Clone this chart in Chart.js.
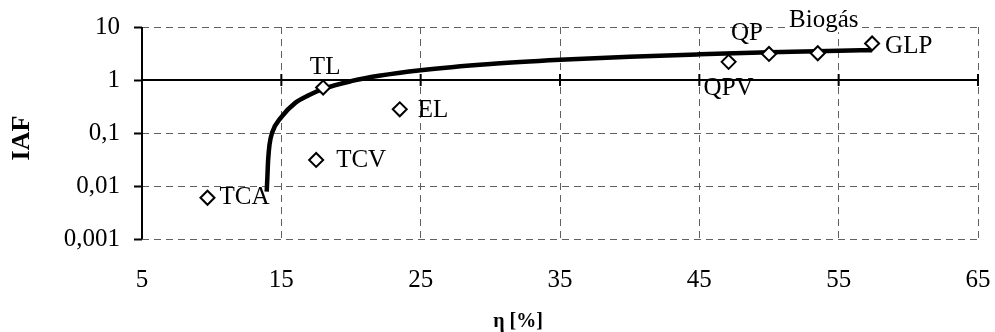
<!DOCTYPE html>
<html>
<head>
<meta charset="utf-8">
<script src="https://cdn.jsdelivr.net/npm/chart.js@4.4.0/dist/chart.umd.min.js"></script>
<style>
  html, body { margin: 0; padding: 0; background: #fff; }
  #wrap { width: 995px; height: 332px; }
</style>
</head>
<body>
<div id="wrap"><canvas id="iaf" width="995" height="332"></canvas></div>
<script>
// technologies, efficiency (%) and IAF
var names = ['TCA', 'TL', 'TCV', 'EL', 'QPV', 'QP', 'Biogás', 'GLP'];
var eta = [9.7, 18.0, 17.5, 23.5, 47.1, 50.0, 53.5, 57.4];
var iaf = [0.006, 0.72, 0.031, 0.28, 2.2, 3.1, 3.2, 4.9];

// trend curve
var curveEta = [13.95, 14.0, 14.05, 14.15, 14.33, 15, 16, 17, 18, 20, 22, 25, 30, 35, 40, 45, 50, 55, 57.4];
var curveIaf = [0.0078, 0.015, 0.03, 0.06, 0.1, 0.2, 0.37, 0.52, 0.68, 0.95, 1.2, 1.53, 2.0, 2.4, 2.75, 3.05, 3.33, 3.57, 3.65];

var xTicks = [5, 15, 25, 35, 45, 55, 65];
var yTicks = [0.001, 0.01, 0.1, 1, 10];
var yTickLabels = ['0,001', '0,01', '0,1', '1', '10'];

// where each point label sits relative to its marker
var labelPos = {
  'TCA':    { dx: 12, dy: 0, align: 'left' },
  'TL':     { dx: 2, dy: -20, align: 'center' },
  'TCV':    { dx: 20, dy: 0, align: 'left' },
  'EL':     { dx: 18, dy: 1, align: 'left' },
  'QPV':    { dx: 0, dy: 27, align: 'center' },
  'QP':     { dx: -22, dy: -21, align: 'center' },
  'Biogás': { dx: 6, dy: -33, align: 'center', bg: true },
  'GLP':    { dx: 13, dy: 3, align: 'left' }
};

Chart.defaults.font.family = 'Liberation Serif';
Chart.defaults.color = '#000';

var points = names.map(function(n, i) { return { x: eta[i], y: iaf[i] }; });
var curve = curveEta.map(function(x, i) { return { x: x, y: curveIaf[i] }; });

var axesPlugin = {
  id: 'axes',
  beforeDatasetsDraw: function(chart) {
    var ctx = chart.ctx, a = chart.chartArea;
    var xs = chart.scales.x, ys = chart.scales.y;
    var y1 = ys.getPixelForValue(1);
    ctx.save();
    ctx.strokeStyle = '#000';
    ctx.lineWidth = 2;
    ctx.beginPath();
    ctx.moveTo(a.left, a.top);
    ctx.lineTo(a.left, a.bottom);
    ctx.moveTo(a.left, y1);
    ctx.lineTo(a.right, y1);
    xTicks.forEach(function(v) {
      var px = xs.getPixelForValue(v);
      ctx.moveTo(px, y1 - 6);
      ctx.lineTo(px, y1 + 6);
    });
    ctx.stroke();
    ctx.restore();
  },
  afterDraw: function(chart) {
    var ctx = chart.ctx;
    ctx.save();
    ctx.fillStyle = '#000';
    ctx.textAlign = 'center';
    ctx.textBaseline = 'middle';
    ctx.font = 'bold 20px "Liberation Serif"';
    ctx.fillText('η [%]', 518, 322);
    ctx.translate(22, 138);
    ctx.rotate(-Math.PI / 2);
    ctx.font = 'bold 26px "Liberation Serif"';
    ctx.fillText('IAF', 0, 0);
    ctx.restore();
  }
};

var labelPlugin = {
  id: 'pointLabels',
  afterDatasetsDraw: function(chart) {
    var ctx = chart.ctx;
    var meta = chart.getDatasetMeta(0);
    ctx.save();
    ctx.font = '25px "Liberation Serif"';
    ctx.textBaseline = 'middle';
    meta.data.forEach(function(el, i) {
      var p = labelPos[names[i]];
      var tx = el.x + p.dx, ty = el.y + p.dy;
      ctx.textAlign = p.align;
      if (p.bg) {
        var w = ctx.measureText(names[i]).width;
        var left = p.align === 'center' ? tx - w / 2 : tx;
        ctx.fillStyle = '#fff';
        ctx.fillRect(left - 2, ty - 12, w + 4, 24);
      }
      ctx.fillStyle = '#000';
      ctx.fillText(names[i], tx, ty);
    });
    ctx.restore();
  }
};

new Chart(document.getElementById('iaf'), {
  type: 'scatter',
  data: {
    datasets: [{
      label: 'IAF',
      data: points,
      pointStyle: 'rectRot',
      pointRadius: 7,
      pointHoverRadius: 7,
      borderWidth: 2,
      borderColor: '#000',
      backgroundColor: '#fff',
      showLine: false
    }, {
      label: 'tendência',
      type: 'line',
      data: curve,
      borderColor: '#000',
      borderWidth: 4.5,
      pointRadius: 0,
      fill: false,
      cubicInterpolationMode: 'monotone'
    }]
  },
  options: {
    responsive: false,
    animation: false,
    devicePixelRatio: 1,
    layout: { padding: { top: 27, right: 17, left: 0, bottom: 0 } },
    plugins: {
      legend: { display: false },
      tooltip: { enabled: false }
    },
    scales: {
      x: {
        type: 'linear',
        min: 5,
        max: 65,
        afterBuildTicks: function(s) { s.ticks = xTicks.map(function(v) { return { value: v }; }); },
        afterFit: function(s) { s.height = 93; },
        ticks: {
          padding: 0,
          font: { size: 25 },
          maxRotation: 0,
          callback: function(v) { return String(v); }
        },
        grid: {
          color: '#606060',
          lineWidth: 1,
          drawTicks: true,
          tickLength: 26,
          tickColor: 'rgba(0,0,0,0)'
        },
        border: { display: false, dash: [7, 5] }
      },
      y: {
        type: 'logarithmic',
        min: 0.001,
        max: 10,
        afterBuildTicks: function(s) { s.ticks = yTicks.map(function(v) { return { value: v }; }); },
        afterFit: function(s) { s.width = 142; },
        ticks: {
          padding: 14,
          font: { size: 25, lineHeight: 1 },
          callback: function(v) {
            var i = yTicks.indexOf(v);
            return i < 0 ? '' : yTickLabels[i];
          }
        },
        grid: {
          color: '#606060',
          lineWidth: 1,
          drawTicks: true,
          tickLength: 8,
          tickColor: '#000',
          tickWidth: 2,
          tickBorderDash: []
        },
        border: { display: false, dash: [7, 5] }
      }
    }
  },
  plugins: [axesPlugin, labelPlugin]
});
</script>
</body>
</html>
